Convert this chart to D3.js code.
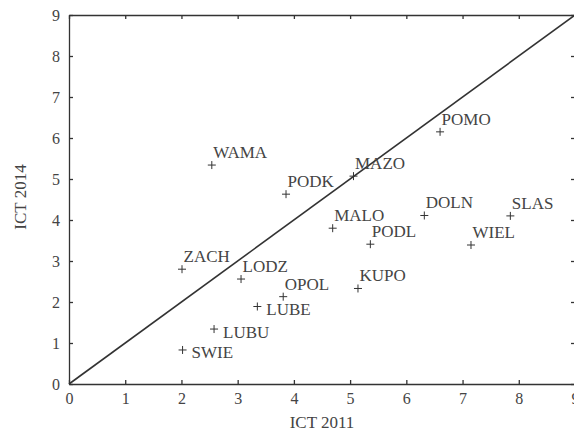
<!DOCTYPE html>
<html>
<head>
<meta charset="utf-8">
<script src="https://d3js.org/d3.v7.min.js"></script>
<style>
  body { margin: 0; background: #fff; }
  svg text { font-family: "Liberation Serif", serif; fill: #444; }
</style>
</head>
<body>
<svg width="574" height="432"></svg>
<script>
// regions (voivodeships) and their ICT index
var regions = ["WAMA", "PODK", "MAZO", "MALO", "PODL", "POMO", "DOLN", "SLAS",
               "WIEL", "ZACH", "LODZ", "OPOL", "KUPO", "LUBE", "LUBU", "SWIE"];
var ict2011 = [2.54, 3.86, 5.06, 4.69, 5.36, 6.60, 6.32, 7.85,
               7.15, 2.01, 3.06, 3.81, 5.14, 3.35, 2.58, 2.02];
var ict2014 = [5.34, 4.63, 5.07, 3.80, 3.41, 6.15, 4.11, 4.10,
               3.39, 2.80, 2.56, 2.13, 2.33, 1.89, 1.34, 0.83];
// where the name sits: "ne" above right, "e" right of the mark
var labelSide = ["ne", "ne", "ne", "ne", "ne", "ne", "ne", "ne",
                 "ne", "ne", "ne", "ne", "ne", "e", "e", "e"];
var axisTicks = [0, 1, 2, 3, 4, 5, 6, 7, 8, 9];

var svg = d3.select("svg");
var x = d3.scaleLinear().domain([0, 9]).range([69, 575]);
var y = d3.scaleLinear().domain([0, 9]).range([384, 15]);
var ink = "#333";
var textInk = "#444";

function style(g) {
    g.selectAll("path, line").attr("stroke", ink).attr("stroke-width", 1.3);
    g.selectAll("text").attr("font-size", 16).attr("fill", textInk)
        .attr("font-family", "Liberation Serif, serif");
}

svg.append("g").attr("transform", "translate(0,384)")
    .call(d3.axisBottom(x).tickValues(axisTicks).tickSize(-4).tickSizeOuter(0).tickPadding(9))
    .call(style);
svg.append("g").attr("transform", "translate(69,0)")
    .call(d3.axisLeft(y).tickValues(axisTicks).tickSize(-4).tickSizeOuter(0).tickPadding(9))
    .call(style);
svg.append("g").attr("transform", "translate(0,15)")
    .call(d3.axisTop(x).tickValues(axisTicks).tickSize(-4).tickSizeOuter(0).tickFormat(""))
    .call(style);
svg.append("g").attr("transform", "translate(575,0)")
    .call(d3.axisRight(y).tickValues(axisTicks).tickSize(-4).tickSizeOuter(0).tickFormat(""))
    .call(style);

// equality line
svg.append("line")
    .attr("x1", x(0)).attr("y1", y(0))
    .attr("x2", x(9)).attr("y2", y(9))
    .attr("stroke", ink).attr("stroke-width", 1.6);

var pts = regions.map(function (r, i) {
    return {name: r, a: ict2011[i], b: ict2014[i], side: labelSide[i]};
});

var marks = svg.append("g");
marks.selectAll("path")
    .data(pts)
    .enter()
    .append("path")
    .attr("d", function (d) {
        var px = x(d.a), py = y(d.b);
        return "M" + (px - 4) + "," + py + "H" + (px + 4) +
               "M" + px + "," + (py - 4) + "V" + (py + 4);
    })
    .attr("stroke", ink)
    .attr("stroke-width", 1);

marks.selectAll("text")
    .data(pts)
    .enter()
    .append("text")
    .attr("x", function (d) { return x(d.a) + (d.side == "e" ? 9 : 1.5); })
    .attr("y", function (d) { return y(d.b) + (d.side == "e" ? 8.5 : -7); })
    .attr("font-size", 17)
    .text(function (d) { return d.name; });

svg.append("text")
    .attr("x", 322).attr("y", 428)
    .attr("text-anchor", "middle")
    .attr("font-size", 17)
    .text("ICT 2011");

svg.append("text")
    .attr("transform", "translate(26,197) rotate(-90)")
    .attr("text-anchor", "middle")
    .attr("font-size", 17)
    .text("ICT 2014");
</script>
</body>
</html>
